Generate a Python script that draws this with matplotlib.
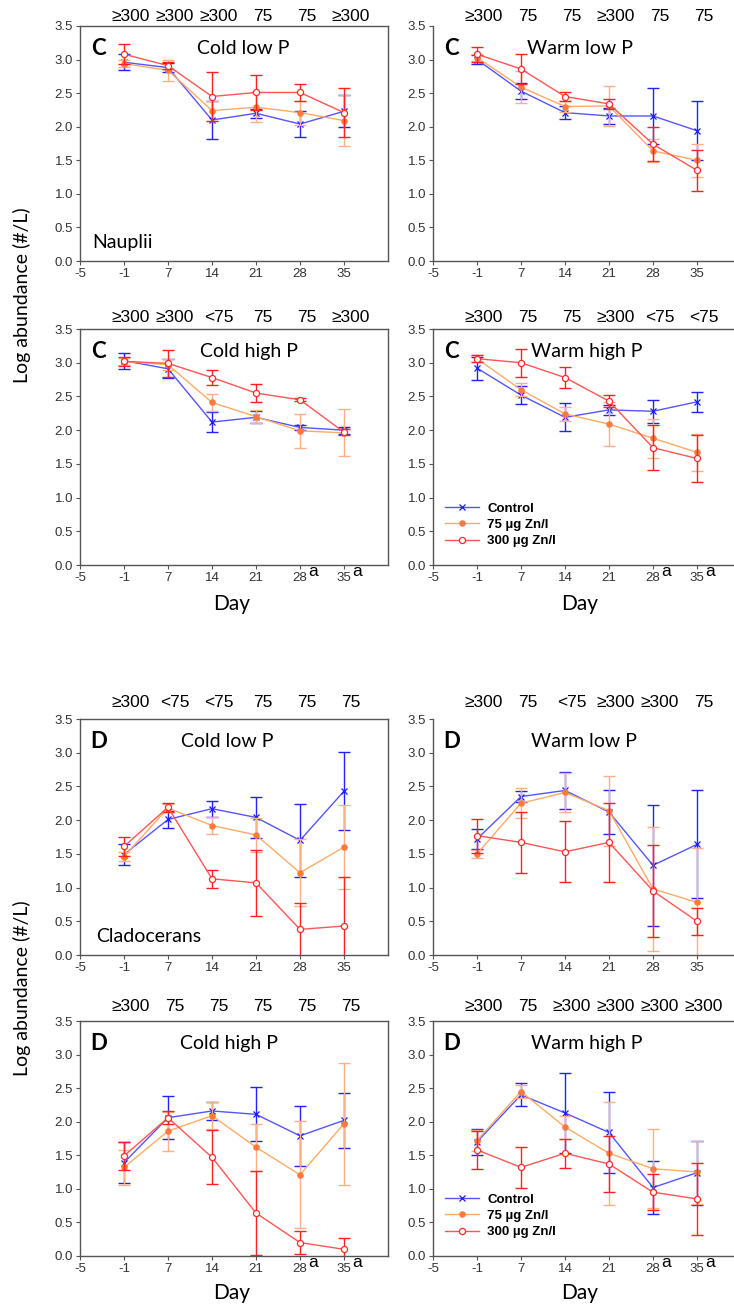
import numpy as np
import matplotlib.pyplot as plt
from matplotlib.transforms import blended_transform_factory

# ---------------- data ----------------
days = [-1, 7, 14, 21, 28, 35]
xtick_labels = ['-5', '-1', '7', '14', '21', '28', '35']
series_names = ['Control', '75 \u00b5g Zn/l', '300 \u00b5g Zn/l']

# Nauplii, cold low P
ncl_ctrl = [2.96, 2.88, 2.10, 2.20, 2.04, 2.23]
ncl_ctrl_err = [0.12, 0.07, 0.29, 0.07, 0.19, 0.24]
ncl_75 = [2.94, 2.84, 2.24, 2.29, 2.21, 2.09]
ncl_75_err = [0.05, 0.16, 0.15, 0.22, 0.18, 0.38]
ncl_300 = [3.08, 2.91, 2.45, 2.51, 2.51, 2.21]
ncl_300_err = [0.15, 0.05, 0.37, 0.26, 0.12, 0.37]

# Nauplii, warm low P
nwl_ctrl = [3.00, 2.53, 2.21, 2.16, 2.16, 1.94]
nwl_ctrl_err = [0.07, 0.12, 0.10, 0.12, 0.41, 0.44]
nwl_75 = [3.03, 2.59, 2.30, 2.31, 1.64, 1.50]
nwl_75_err = [0.05, 0.24, 0.08, 0.30, 0.17, 0.25]
nwl_300 = [3.08, 2.86, 2.45, 2.34, 1.74, 1.35]
nwl_300_err = [0.11, 0.23, 0.06, 0.07, 0.25, 0.30]

# Nauplii, cold high P
nch_ctrl = [3.03, 2.91, 2.12, 2.19, 2.04, 2.00]
nch_ctrl_err = [0.12, 0.14, 0.15, 0.09, 0.04, 0.05]
nch_75 = [3.02, 2.97, 2.41, 2.20, 1.99, 1.96]
nch_75_err = [0.05, 0.08, 0.12, 0.10, 0.25, 0.35]
nch_300 = [3.02, 2.99, 2.78, 2.55, 2.45, 1.97]
nch_300_err = [0.07, 0.20, 0.11, 0.14, 0.02, 0.04]

# Nauplii, warm high P
nwh_ctrl = [2.92, 2.52, 2.19, 2.30, 2.28, 2.42]
nwh_ctrl_err = [0.17, 0.13, 0.21, 0.08, 0.17, 0.15]
nwh_75 = [3.06, 2.60, 2.24, 2.09, 1.88, 1.67]
nwh_75_err = [0.05, 0.10, 0.10, 0.33, 0.29, 0.28]
nwh_300 = [3.06, 3.00, 2.78, 2.43, 1.74, 1.58]
nwh_300_err = [0.05, 0.21, 0.16, 0.09, 0.33, 0.35]

# Cladocerans, cold low P
ccl_ctrl = [1.49, 2.01, 2.17, 2.04, 1.70, 2.43]
ccl_ctrl_err = [0.15, 0.13, 0.12, 0.31, 0.54, 0.58]
ccl_75 = [1.46, 2.18, 1.92, 1.78, 1.22, 1.60]
ccl_75_err = [0.07, 0.06, 0.12, 0.25, 0.50, 0.62]
ccl_300 = [1.61, 2.19, 1.13, 1.07, 0.38, 0.43]
ccl_300_err = [0.14, 0.07, 0.13, 0.49, 0.39, 0.73]

# Cladocerans, warm low P
cwl_ctrl = [1.72, 2.35, 2.44, 2.12, 1.33, 1.64]
cwl_ctrl_err = [0.15, 0.08, 0.27, 0.32, 0.90, 0.80]
cwl_75 = [1.50, 2.25, 2.41, 2.14, 0.98, 0.78]
cwl_75_err = [0.06, 0.22, 0.29, 0.52, 0.92, 0.80]
cwl_300 = [1.77, 1.67, 1.53, 1.67, 0.95, 0.50]
cwl_300_err = [0.25, 0.45, 0.45, 0.59, 0.68, 0.20]

# Cladocerans, cold high P
cch_ctrl = [1.39, 2.06, 2.16, 2.11, 1.79, 2.02]
cch_ctrl_err = [0.31, 0.32, 0.14, 0.40, 0.45, 0.41]
cch_75 = [1.32, 1.86, 2.09, 1.62, 1.21, 1.97]
cch_75_err = [0.26, 0.29, 0.20, 0.35, 0.80, 0.91]
cch_300 = [1.49, 2.06, 1.47, 0.64, 0.20, 0.10]
cch_300_err = [0.21, 0.10, 0.40, 0.62, 0.17, 0.17]

# Cladocerans, warm high P
cwh_ctrl = [1.70, 2.40, 2.13, 1.84, 1.02, 1.24]
cwh_ctrl_err = [0.19, 0.17, 0.59, 0.61, 0.39, 0.48]
cwh_75 = [1.72, 2.45, 1.92, 1.53, 1.30, 1.25]
cwh_75_err = [0.15, 0.10, 0.17, 0.77, 0.59, 0.47]
cwh_300 = [1.58, 1.32, 1.53, 1.37, 0.95, 0.85]
cwh_300_err = [0.28, 0.30, 0.22, 0.42, 0.27, 0.53]

# threshold labels above each panel
ncl_top = ['\u2265300', '\u2265300', '\u2265300', '75', '75', '\u2265300']
nwl_top = ['\u2265300', '75', '75', '\u2265300', '75', '75']
nch_top = ['\u2265300', '\u2265300', '<75', '75', '75', '\u2265300']
nwh_top = ['\u2265300', '75', '75', '\u2265300', '<75', '<75']
ccl_top = ['\u2265300', '<75', '<75', '75', '75', '75']
cwl_top = ['\u2265300', '75', '<75', '\u2265300', '\u2265300', '75']
cch_top = ['\u2265300', '75', '75', '75', '75', '75']
cwh_top = ['\u2265300', '75', '\u2265300', '\u2265300', '\u2265300', '\u2265300']

panels = [
    ('C', 'Cold low P', ncl_top, (ncl_ctrl, ncl_ctrl_err), (ncl_75, ncl_75_err), (ncl_300, ncl_300_err)),
    ('C', 'Warm low P', nwl_top, (nwl_ctrl, nwl_ctrl_err), (nwl_75, nwl_75_err), (nwl_300, nwl_300_err)),
    ('C', 'Cold high P', nch_top, (nch_ctrl, nch_ctrl_err), (nch_75, nch_75_err), (nch_300, nch_300_err)),
    ('C', 'Warm high P', nwh_top, (nwh_ctrl, nwh_ctrl_err), (nwh_75, nwh_75_err), (nwh_300, nwh_300_err)),
    ('D', 'Cold low P', ccl_top, (ccl_ctrl, ccl_ctrl_err), (ccl_75, ccl_75_err), (ccl_300, ccl_300_err)),
    ('D', 'Warm low P', cwl_top, (cwl_ctrl, cwl_ctrl_err), (cwl_75, cwl_75_err), (cwl_300, cwl_300_err)),
    ('D', 'Cold high P', cch_top, (cch_ctrl, cch_ctrl_err), (cch_75, cch_75_err), (cch_300, cch_300_err)),
    ('D', 'Warm high P', cwh_top, (cwh_ctrl, cwh_ctrl_err), (cwh_75, cwh_75_err), (cwh_300, cwh_300_err)),
]

# ---------------- layout / style ----------------
W, H = 734, 1307
ax_left = [80, 433]
ax_w = 308
row_top = [26, 329, 719, 1021]
row_bot = [261, 565, 955, 1256]
top_lab_y = [1.04, 1.047, 1.068, 1.06]
title_x = [0.53, 0.477, 0.55, 0.50, 0.477, 0.49, 0.484, 0.50]

styles = [
    dict(line='#5555ff', mk='#1a1aff', err='#2222ff', marker='x', mfc='#1a1aff', ms=3.8),
    dict(line='#ffab66', mk='#ff7a3c', err='#ffae88', marker='o', mfc='#ff7a3c', ms=3.8),
    dict(line='#ff5555', mk='#ff2a2a', err='#ff2020', marker='o', mfc='white', ms=4.4),
]

sans = ['Liberation Sans', 'DejaVu Sans']
label_font = 'Lato'
tick_col = '#333333'
spine_col = '#555555'

fig = plt.figure(figsize=(W / 100, H / 100), dpi=100)
x = np.arange(1, len(days) + 1)

for i, (letter, title, top_labels, *series) in enumerate(panels):
    row, col = divmod(i, 2)
    ax = fig.add_axes([ax_left[col] / W, 1 - row_bot[row] / H,
                       ax_w / W, (row_bot[row] - row_top[row]) / H])

    handles = []
    for (vals, errs), st in zip(series, styles):
        ax.errorbar(x, vals, yerr=errs, fmt='none', ecolor=st['err'],
                    elinewidth=1, capsize=4.5, capthick=1)
        h, = ax.plot(x, vals, color=st['line'], lw=1, marker=st['marker'],
                     ms=st['ms'], mec=st['mk'], mfc=st['mfc'], mew=0.9)
        handles.append(h)

    ax.set_xlim(0, 7)
    ax.set_ylim(0, 3.5)
    ax.set_xticks(range(7))
    ax.set_xticklabels(xtick_labels)
    ax.set_yticks(np.arange(0, 3.51, 0.5))
    ax.set_yticklabels([f'{v:.1f}' for v in np.arange(0, 3.51, 0.5)])
    ax.tick_params(direction='out', length=3, width=0.8, color=spine_col,
                   labelcolor=tick_col, labelsize=9.5, pad=2)
    for lab in ax.get_xticklabels() + ax.get_yticklabels():
        lab.set_family(sans)
    for sp in ax.spines.values():
        sp.set_color(spine_col)
        sp.set_linewidth(1)
    # right-hand panels of the upper rows have no top frame line
    if col == 1 and row in (0, 2):
        ax.spines['top'].set_visible(False)

    ax.text(0.06, 0.906, letter, transform=ax.transAxes, ha='center',
            va='center', fontsize=16, fontweight='bold', family=label_font)
    ax.text(title_x[i], 0.906, title, transform=ax.transAxes, ha='center',
            va='center', fontsize=14, family=label_font)

    trans = blended_transform_factory(ax.transData, ax.transAxes)
    for xi, lab in zip(x, top_labels):
        ax.text(xi + 0.15, top_lab_y[row], lab, transform=trans, ha='center',
                va='center', fontsize=12.5, family=sans, clip_on=False)

    if row in (1, 3):
        for xi in x[-2:]:
            ax.text(xi + 0.3, -0.028, 'a', transform=trans, ha='center',
                    va='center', fontsize=12.5, family=sans, clip_on=False)
        if col == 1:
            ax.legend(handles, series_names, loc='lower left',
                      bbox_to_anchor=(0.0, 0.025), frameon=False,
                      prop=dict(family=sans, weight='bold', size=9.5),
                      handlelength=2.6, handletextpad=0.6, labelspacing=0.3)

    if i == 0:
        ax.text(0.04, 0.08, 'Nauplii', transform=ax.transAxes, ha='left',
                va='center', fontsize=14, family=label_font)
    if i == 4:
        ax.text(0.052, 0.08, 'Cladocerans', transform=ax.transAxes, ha='left',
                va='center', fontsize=14, family=label_font)

# shared axis labels
for yc in (295, 988):
    fig.text(22 / W, 1 - yc / H, 'Log abundance (#/L)', rotation=90,
             ha='center', va='center', fontsize=14, family=label_font)
for yc in (604, 1293):
    for xc in (232, 580):
        fig.text(xc / W, 1 - yc / H, 'Day', ha='center', va='center',
                 fontsize=15, family=label_font)

fig.savefig('out.png', dpi=100)
